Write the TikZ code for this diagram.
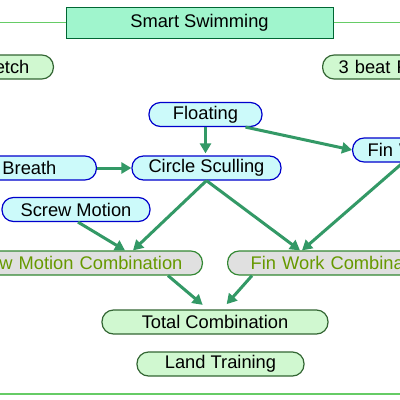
\documentclass[tikz,border=0pt]{standalone}
\usepackage{fontspec}
\setmainfont{Liberation Sans}
\usepackage{tikz}
\usetikzlibrary{arrows.meta, positioning, calc}
\definecolor{titlefill}{RGB}{160, 245, 205}
\definecolor{titleborder}{RGB}{0, 102, 51}
\definecolor{greenfill}{RGB}{208, 248, 208}
\definecolor{greenborder}{RGB}{51, 102, 51}
\definecolor{bluefill}{RGB}{204, 250, 250}
\definecolor{blueborder}{RGB}{0, 0, 204}
\definecolor{grayfill}{RGB}{224, 224, 224}
\definecolor{grayborder}{RGB}{51, 136, 51}
\definecolor{graytext}{RGB}{102, 153, 0}
\definecolor{linkgreen}{RGB}{51, 153, 102}
\definecolor{railgreen}{RGB}{102, 204, 102}

\begin{document}
\begin{tikzpicture}[x=1pt, y=-1pt, font=\fontsize{18.3}{22}\selectfont,
  pill/.style={rectangle, rounded corners=11.5pt, minimum height=24pt, inner ysep=0pt, line width=1.2pt},
  greenpill/.style={pill, draw=greenborder, fill=greenfill},
  bluepill/.style={pill, draw=blueborder, fill=bluefill},
  graypill/.style={pill, draw=grayborder, fill=grayfill, text=graytext},
  link/.style={-{Triangle[length=10pt, width=11pt]}, line width=3pt, draw=linkgreen},
  rail/.style={line width=1.5pt, draw=railgreen}]

  % --- Fundo e recorte ---
  \fill[white] (0,0) rectangle (400,400);
  \clip (0,0) rectangle (400,400);

  % --- Título e linhas ---
  \coordinate (railleft) at (0,24);
  \coordinate (railright) at (400,24);
  \node[rectangle, draw=titleborder, fill=titlefill, line width=1pt, minimum width=267pt, minimum height=31pt] (title) at (199.5,22.5) {Smart Swimming};
  \draw[rail] (title.west) -- (title.west -| railleft);
  \draw[rail] (title.east) -- (title.east -| railright);
  \draw[rail] (0,394) -- (400,394);

  % --- Nós ---
  \node[greenpill, anchor=east, text width=80pt, align=right, inner xsep=24pt] (stretch) at (54,67) {etch};
  \node[greenpill, anchor=west, text width=90pt, align=left, inner xsep=16pt] (beat) at (322,67) {3 beat F};
  \node[bluepill, minimum width=113pt] (float) at (205.5,114.5) {Floating};
  \node[bluepill, anchor=west, text width=60pt, align=left, inner xsep=15pt] (finw) at (352,150) {Fin W};
  \node[bluepill, anchor=east, text width=80pt, align=right, inner xsep=40pt] (breath) at (97,168) {Breath};
  \node[bluepill, minimum width=149pt] (circ) at (206.5,168) {Circle Sculling};
  \node[bluepill, minimum width=148pt] (screw) at (76,209.5) {Screw Motion};
  \node[graypill, anchor=east, text width=190pt, align=right, inner xsep=20pt] (smc) at (203,263) {w Motion Combination};
  \node[graypill, anchor=west, text width=190pt, align=left, inner xsep=23pt] (fwc) at (227,263) {Fin Work Combina};
  \node[greenpill, minimum width=226pt] (total) at (215,322) {Total Combination};
  \node[greenpill, minimum width=167pt] (land) at (220.5,364) {Land Training};

  % --- Setas ---
  \draw[link, shorten >=2pt] (float.south) -- (float.south |- circ.north);
  \draw[link] ([xshift=40pt]float.south) -- (finw.west);
  \draw[link] (breath.east) -- (circ.west);
  \draw[link] (circ.south) -- ([xshift=-70pt]smc.north east);
  \draw[link] (circ.south) -- ([xshift=73pt]fwc.north west);
  \draw[link] ([xshift=2pt]screw.south) -- ([xshift=-78pt]smc.north east);
  \draw[link] ([xshift=51pt]finw.south west) -- ([xshift=75pt]fwc.north west);
  \draw[link, shorten >=7pt] ([xshift=-35pt]smc.south east) -- ([xshift=-7pt]total.north);
  \draw[link, shorten >=7pt] ([xshift=25pt]fwc.south west) -- ([xshift=7pt]total.north);

\end{tikzpicture}
\end{document}
